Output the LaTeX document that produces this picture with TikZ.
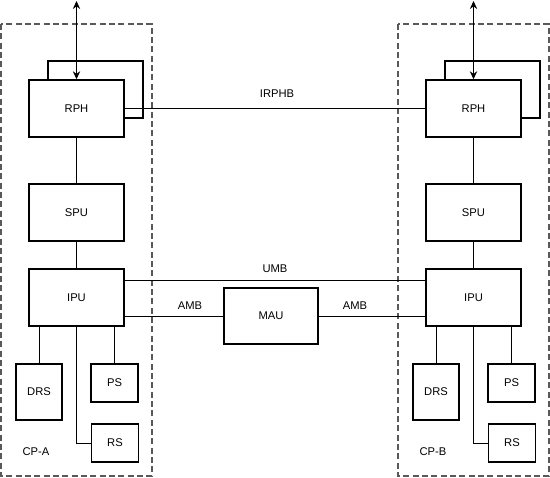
\documentclass[tikz,border=0pt]{standalone}
\usepackage{fontspec}
\setmainfont{Liberation Sans}
\usepackage{tikz}
\usetikzlibrary{arrows.meta}
\tikzset{
    box/.style = {rectangle, draw=black, line width=1.1pt, fill=white, align=center, inner sep=0pt, font=\fontsize{8.4}{10}\selectfont},
    unit_box/.style = {box, minimum width=71.25pt, minimum height=42.75pt},
    drs_box/.style = {box, minimum width=34.5pt, minimum height=42pt},
    small_box/.style = {box, minimum width=35pt, minimum height=28.5pt},
    mau_box/.style = {box, minimum width=70.5pt, minimum height=42pt},
    bus/.style = {draw=black, line width=0.6pt},
    txt/.style = {inner sep=0pt, font=\fontsize{8.4}{10}\selectfont},
    cp_frame/.style = {draw=black!65, line width=0.8pt, dash pattern=on 4.5pt off 2.5pt}
}

\begin{document}
\begin{tikzpicture}
            [x=0.75pt, y=-0.75pt, >={Stealth[length=6pt, width=5.5pt]}]

            \useasboundingbox (0,0) rectangle (550,478);

            % both processors
            \foreach \s/\dx in {A/0, B/397} {
                \draw [cp_frame] (1+\dx,24) rectangle (152+\dx,476);
                \node [txt] (cp\s) at (36+\dx,452) {CP-\s};

                \node [unit_box] (rphback\s) at (95.5+\dx,89.5) {};
                \node [unit_box] (rph\s) at (76.5+\dx,108.5) {RPH};
                \node [unit_box] (spu\s) at (76.5+\dx,212.5) {SPU};
                \node [unit_box] (ipu\s) at (76.5+\dx,297.5) {IPU};
                \node [drs_box] (drs\s) at (39+\dx,392) {DRS};
                \node [small_box] (ps\s) at (114.5+\dx,383) {PS};
                \node [small_box] (rs\s) at (115+\dx,443) {RS};

                \coordinate (top\s) at (76.5+\dx,1);
                \draw [bus, line width=0.9pt, <->] (top\s) -- (rph\s.north);
                \draw [bus] (rph\s) -- (spu\s);
                \draw [bus] (spu\s) -- (ipu\s);
                \draw [bus] (drs\s.north |- ipu\s.south) -- (drs\s.north);
                \draw [bus] (ps\s.north |- ipu\s.south) -- (ps\s.north);
                \draw [bus] (ipu\s.south) |- (rs\s.west);
            }

            \node [mau_box] (mau) at (271,316) {MAU};

            \draw [bus] (rphA.east) -- (rphB.west);
            \draw [bus] ([yshift=-9pt]ipuA.north east) -- ([yshift=-9pt]ipuB.north west);
            \draw [bus] (mau.west -| ipuA.east) -- (mau.west);
            \draw [bus] (mau.east) -- (mau.east -| ipuB.west);

            \node [txt] (irphb) at (277,94) {IRPHB};
            \node [txt] (umb) at (275,269) {UMB};
            \node [txt] (amba) at (190,306) {AMB};
            \node [txt] (ambb) at (355,306) {AMB};
        \end{tikzpicture}
\end{document}
